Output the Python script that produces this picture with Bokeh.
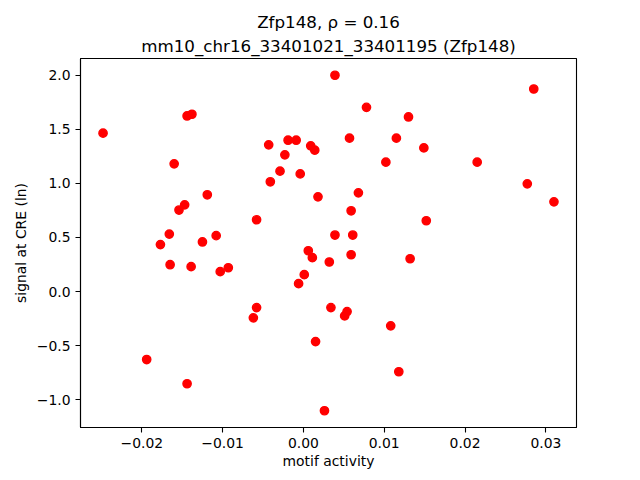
from bokeh.plotting import figure
from bokeh.models import Range1d, FixedTicker, CustomJSTickFormatter, Title
from bokeh.embed import file_html
from bokeh.resources import INLINE

# ---- data ----
motif_activity = [
    -0.0248, -0.0144, -0.0138, -0.0160, -0.0043, -0.0019, -0.0009, 0.0009, 0.0014, -0.0023,
    -0.0029, -0.0004, -0.0041, 0.0018, -0.0119, -0.0147, -0.0154, -0.0058, -0.0166, -0.0177,
    -0.0125, -0.0108, 0.0039, 0.0078, 0.0130, 0.0057, 0.0115, 0.0149, 0.0102, 0.0215,
    0.0285, 0.0277, 0.0310, 0.0068, 0.0059, 0.0152, 0.0039, 0.0061, -0.0165, -0.0139,
    -0.0103, -0.0093, 0.0006, 0.0011, 0.0032, 0.0001, -0.0006, -0.0058, -0.0062, 0.0034,
    0.0015, -0.0194, -0.0144, 0.0026, 0.0059, 0.0132, 0.0054, 0.0051, 0.0108, 0.0118,
]
cre_signal = [
    1.463, 1.622, 1.638, 1.180, 1.355, 1.398, 1.398, 1.346, 1.306, 1.263,
    1.112, 1.087, 1.014, 0.875, 0.894, 0.801, 0.753, 0.663, 0.531, 0.434,
    0.458, 0.516, 1.998, 1.702, 1.613, 1.417, 1.417, 1.327, 1.195, 1.195,
    1.871, 0.995, 0.829, 0.912, 0.746, 0.654, 0.522, 0.522, 0.248, 0.230,
    0.184, 0.220, 0.377, 0.313, 0.273, 0.156, 0.073, -0.148, -0.243, -0.148,
    -0.462, -0.628, -0.852, -1.101, 0.340, 0.303, -0.185, -0.225, -0.317, -0.741,
]
x_ticks = [-0.02, -0.01, 0.0, 0.01, 0.02, 0.03]
y_ticks = [-1.0, -0.5, 0.0, 0.5, 1.0, 1.5, 2.0]
title_line1 = "Zfp148, \u03c1 = 0.16"
title_line2 = "mm10_chr16_33401021_33401195 (Zfp148)"
x_label = "motif activity"
y_label = "signal at CRE (ln)"


def padded(vals, frac=0.05):
    lo, hi = min(vals), max(vals)
    pad = (hi - lo) * frac
    return lo - pad, hi + pad


xlo, xhi = padded(motif_activity)
ylo, yhi = padded(cre_signal)

FONT = "DejaVu Sans"

p = figure(
    width=640, height=480,
    output_backend="svg", toolbar_location=None,
    x_range=Range1d(xlo, xhi), y_range=Range1d(ylo, yhi),
    min_border_left=80, min_border_right=64, min_border_top=58, min_border_bottom=53,
)
p.background_fill_color = "white"
p.border_fill_color = "white"
p.grid.visible = False
p.outline_line_color = "black"
p.outline_line_width = 1.1

p.scatter(motif_activity, cre_signal, size=8.3, fill_color="#ff0000",
          line_color="#ff0000", line_width=1.4, marker="circle")

for ax in (p.xaxis[0], p.yaxis[0]):
    ax.axis_line_color = "black"
    ax.axis_line_width = 1.1
    ax.major_tick_line_color = "black"
    ax.major_tick_line_width = 1.1
    ax.major_tick_in = 0
    ax.major_tick_out = 5
    ax.minor_tick_line_color = None
    ax.major_label_standoff = 5
    ax.major_label_text_font = FONT
    ax.major_label_text_font_size = "13.9px"
    ax.major_label_text_color = "black"
    ax.axis_label_text_font = FONT
    ax.axis_label_text_font_size = "13.9px"
    ax.axis_label_text_font_style = "normal"
    ax.axis_label_text_color = "black"

p.xaxis[0].ticker = FixedTicker(ticks=x_ticks)
p.yaxis[0].ticker = FixedTicker(ticks=y_ticks)
p.xaxis[0].formatter = CustomJSTickFormatter(code="return tick.toFixed(2).replace('-', '\u2212');")
p.yaxis[0].formatter = CustomJSTickFormatter(code="return tick.toFixed(1).replace('-', '\u2212');")
p.xaxis[0].axis_label = x_label
p.xaxis[0].axis_label_standoff = 2
p.yaxis[0].axis_label = y_label
p.yaxis[0].axis_label_standoff = 5

# two-line title: the figure's own title is the upper line, the added one sits nearest the frame
p.title.text = title_line1
p.title.align = "center"
p.title.text_font = FONT
p.title.text_font_size = "16.7px"
p.title.text_font_style = "normal"
p.title.text_color = "black"
p.title.standoff = 0
p.add_layout(Title(text=title_line2, align="center", text_font=FONT,
                   text_font_size="16.7px", text_font_style="normal",
                   text_color="black", standoff=5, text_line_height=0.85), "above")

open("out.html", "w").write(file_html(p, INLINE))
